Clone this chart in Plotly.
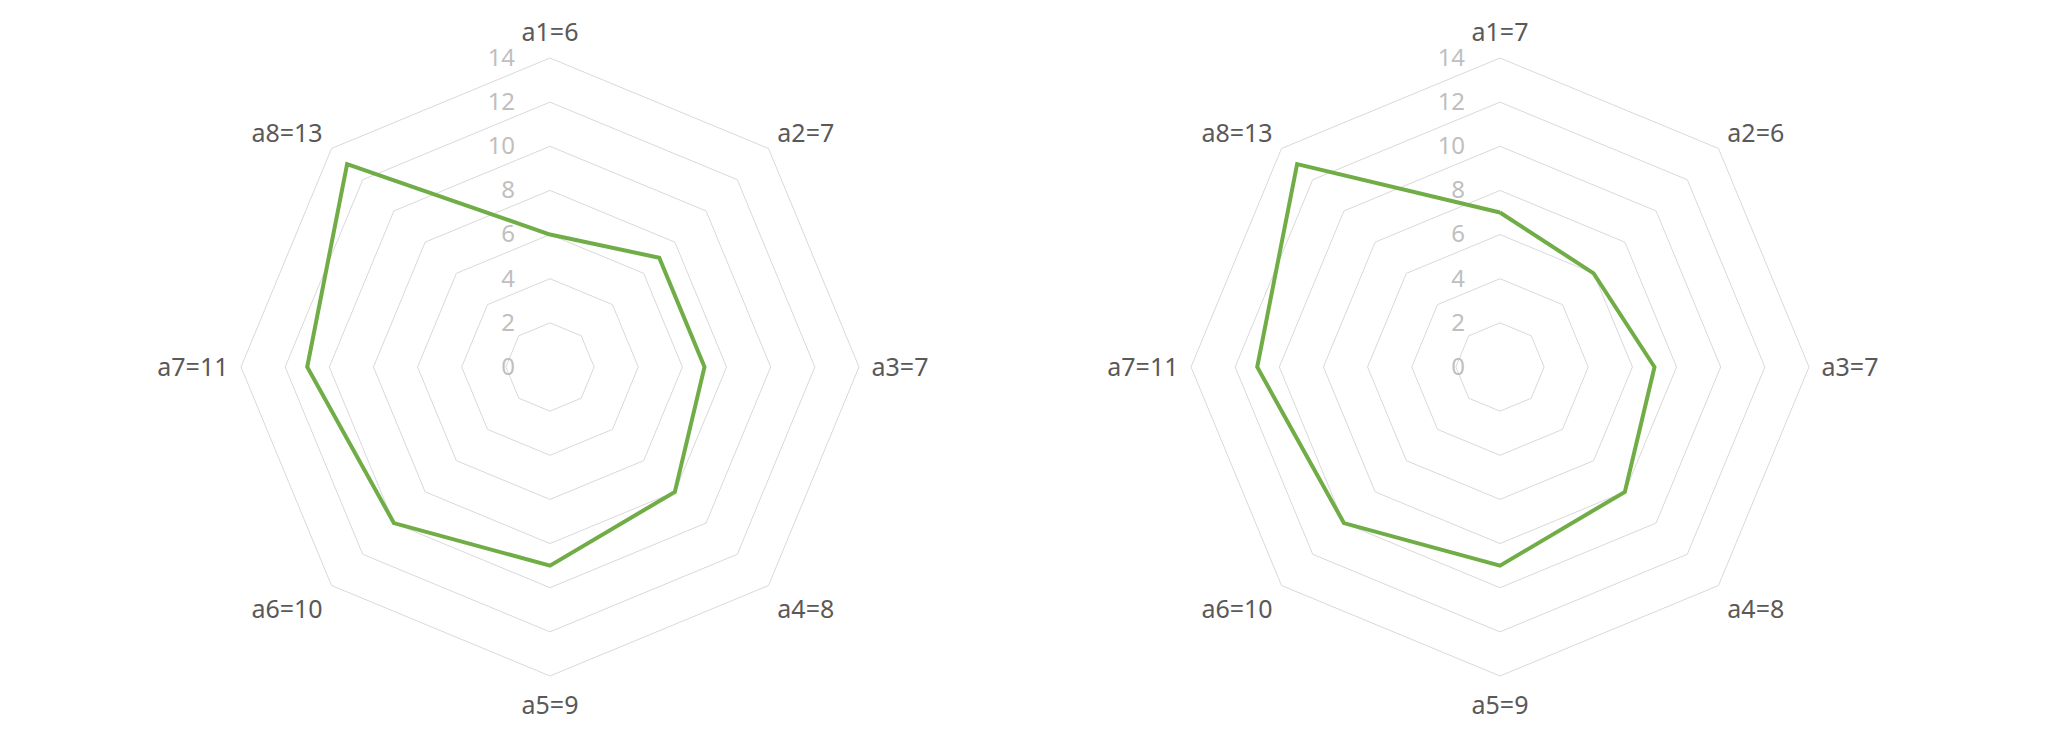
import plotly.graph_objects as go

# dados dos dois radares
categorias = ['a1', 'a2', 'a3', 'a4', 'a5', 'a6', 'a7', 'a8']
valores_esq = [6, 7, 7, 8, 9, 10, 11, 13]
valores_dir = [7, 6, 7, 8, 9, 10, 11, 13]
ticks_radiais = [0, 2, 4, 6, 8, 10, 12, 14]

cor_linha = '#70ad47'
cor_grade = '#d9d9d9'
cor_texto = '#595959'
cor_ticks = '#bfbfbf'
fonte = 'Noto Sans'

W, H = 2048, 733
desloc = 8  # margem padrao do <body> na pagina html
raio = 309
centro_y = 367 - desloc


def dominio(cx):
    cx = cx - desloc
    return dict(
        x=[(cx - raio) / W, (cx + raio) / W],
        y=[(H - centro_y - raio) / H, (H - centro_y + raio) / H],
    )


def eixo_polar(cx, rotulos):
    return dict(
        domain=dominio(cx),
        gridshape='linear',
        bgcolor='white',
        radialaxis=dict(
            range=[0, 14],
            tickvals=ticks_radiais,
            showline=False,
            ticks='outside',
            ticklen=26,
            tickcolor='rgba(0,0,0,0)',
            angle=90,
            tickangle=90,
            side='counterclockwise',
            gridcolor=cor_grade,
            gridwidth=1,
            tickfont=dict(family=fonte, size=24, color=cor_ticks),
        ),
        angularaxis=dict(
            type='category',
            categoryarray=rotulos,
            rotation=90,
            direction='clockwise',
            showgrid=False,
            showline=True,
            linecolor=cor_grade,
            linewidth=1,
            ticks='outside',
            ticklen=7,
            tickcolor='rgba(0,0,0,0)',
            tickfont=dict(family=fonte, size=25, color=cor_texto),
        ),
    )


fig = go.Figure()
layout_polar = {}
for i, (vals, cx) in enumerate([(valores_esq, 550), (valores_dir, 1500)]):
    rotulos = [f"{c}={v}" for c, v in zip(categorias, vals)]
    nome = 'polar' if i == 0 else 'polar2'
    fig.add_trace(go.Scatterpolar(
        r=vals + vals[:1],
        theta=rotulos + rotulos[:1],
        mode='lines',
        line=dict(color=cor_linha, width=4),
        subplot=nome,
        hoverinfo='skip',
    ))
    layout_polar[nome] = eixo_polar(cx, rotulos)

fig.update_layout(
    width=W,
    height=H,
    margin=dict(l=0, r=0, t=0, b=0),
    paper_bgcolor='white',
    plot_bgcolor='white',
    showlegend=False,
    **layout_polar,
)

fig.write_html("out.html")
